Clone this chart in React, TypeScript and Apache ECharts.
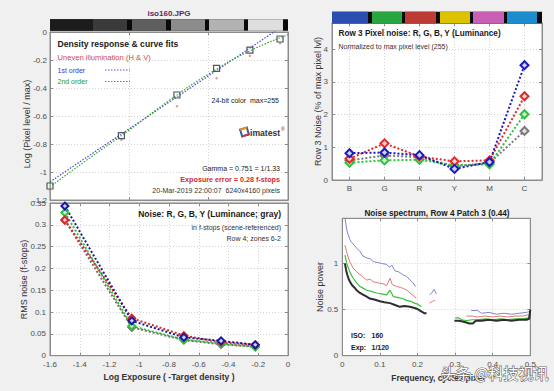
import React, { useEffect, useRef } from 'react';
import * as echarts from 'echarts';

const W = 554;
const H = 391;
const FONT = '"Liberation Sans", Arial, Helvetica, sans-serif';
const AX = '#8c8c8c';
const TICK_TXT = '#4d4d4d';

// ---- Top-left: density response ----
const densX = [-1.5, -1.05, -0.7, -0.45, -0.24, -0.05];
const densY = [-1.1, -0.74, -0.45, -0.26, -0.13, -0.05];
const unevenY = [-1.13, -0.77, -0.53, -0.33, -0.17, -0.08];
const fit1X = [-1.5, 0];
const fit1Y = [-1.07, 0.067];
const fit2X = [-1.5, -1.25, -1.0, -0.75, -0.5, -0.25, 0];
const fit2Y = [-1.105, -0.9, -0.7, -0.49, -0.3, -0.14, -0.02];

// ---- Top-right: pixel noise per patch ----
const patchCats = ['B', 'G', 'R', 'Y', 'M', 'C'];
const pnBlue = [0.82, 0.84, 0.76, 0.34, 0.55, 3.51];
const pnRed = [0.65, 1.12, 0.72, 0.57, 0.6, 2.56];
const pnGreen = [0.53, 0.6, 0.62, 0.45, 0.48, 2.01];
const pnGray = [0.6, 0.75, 0.7, 0.42, 0.52, 1.5];

// ---- Bottom-left: noise in f-stops ----
const nzX = [-1.5, -1.05, -0.7, -0.45, -0.22];
const nzBlue = [0.343, 0.08, 0.042, 0.034, 0.025];
const nzRed = [0.311, 0.086, 0.046, 0.031, 0.025];
const nzGreen = [0.328, 0.068, 0.037, 0.028, 0.02];
const nzGray = [0.311, 0.065, 0.036, 0.026, 0.021];

// ---- Bottom-right: noise spectrum (null = gap) ----
const specBlue: (number[] | null)[] = [
  [0.007, 1.5], [0.012, 1.36], [0.02, 1.26], [0.025, 1.23], [0.035, 1.18], [0.047, 1.13], [0.055, 1.08],
  [0.065, 1.06], [0.075, 1.05], [0.082, 1.02], [0.095, 1.01], [0.105, 1.0], [0.118, 0.99], [0.125, 0.96],
  [0.132, 0.98], [0.14, 0.92], [0.15, 0.91], [0.16, 0.88], [0.171, 0.86], [0.18, 0.82], [0.188, 0.79], [0.195, 0.75],
  null,
  [0.232, 0.66], [0.238, 0.68], [0.244, 0.72], [0.25, 0.67],
  null,
  [0.343, 0.49], [0.36, 0.49], [0.37, 0.46], [0.39, 0.47], [0.41, 0.45], [0.43, 0.46], [0.45, 0.45],
  [0.47, 0.46], [0.49, 0.47], [0.5, 0.48],
];
const specRed: (number[] | null)[] = [
  [0.007, 1.2], [0.012, 1.12], [0.016, 1.06], [0.022, 1.0], [0.029, 0.95], [0.038, 0.91], [0.047, 0.88],
  [0.056, 0.85], [0.065, 0.82], [0.075, 0.83], [0.082, 0.8], [0.095, 0.79], [0.108, 0.78], [0.118, 0.76],
  [0.127, 0.84], [0.133, 0.77], [0.145, 0.75], [0.155, 0.74], [0.162, 0.73], [0.172, 0.71], [0.18, 0.68],
  [0.19, 0.65], [0.197, 0.62],
  null,
  [0.232, 0.57], [0.24, 0.59], [0.247, 0.6],
  null,
  [0.33, 0.43], [0.345, 0.43], [0.36, 0.42], [0.38, 0.43], [0.4, 0.42], [0.42, 0.43], [0.44, 0.42],
  [0.46, 0.43], [0.48, 0.43], [0.5, 0.45],
];
const specGreen: (number[] | null)[] = [
  [0.007, 1.09], [0.012, 1.0], [0.016, 0.95], [0.022, 0.89], [0.029, 0.84], [0.038, 0.79], [0.047, 0.75],
  [0.056, 0.73], [0.065, 0.71], [0.075, 0.7], [0.091, 0.68], [0.105, 0.67], [0.118, 0.66], [0.127, 0.71],
  [0.136, 0.64], [0.15, 0.63], [0.16, 0.62], [0.171, 0.6], [0.182, 0.59], [0.192, 0.57], [0.2, 0.56], [0.21, 0.53],
  null,
  [0.3, 0.41], [0.31, 0.41], [0.318, 0.39], [0.33, 0.38], [0.345, 0.39], [0.36, 0.39], [0.38, 0.4],
  [0.4, 0.39], [0.42, 0.4], [0.44, 0.39], [0.46, 0.4], [0.48, 0.4], [0.495, 0.41], [0.5, 0.45],
];
const specBlack: (number[] | null)[] = [
  [0.007, 1.0], [0.01, 0.93], [0.013, 0.88], [0.018, 0.82], [0.025, 0.77], [0.032, 0.74], [0.038, 0.71],
  [0.047, 0.68], [0.056, 0.66], [0.065, 0.64], [0.073, 0.62], [0.085, 0.61], [0.1, 0.59], [0.112, 0.58],
  [0.127, 0.57], [0.14, 0.55], [0.153, 0.53], [0.165, 0.54], [0.18, 0.53], [0.19, 0.52], [0.198, 0.51],
  [0.21, 0.48], [0.219, 0.46], [0.224, 0.46],
  null,
  [0.298, 0.38], [0.31, 0.38], [0.32, 0.37], [0.33, 0.36], [0.338, 0.35], [0.347, 0.35], [0.355, 0.38],
  [0.37, 0.38], [0.39, 0.39], [0.41, 0.38], [0.43, 0.39], [0.45, 0.38], [0.47, 0.39], [0.49, 0.39],
  [0.497, 0.4], [0.5, 0.5],
];

const zip = (xs: number[], ys: number[]) => xs.map((x, i) => [x, ys[i]]);
const toPairs = (arr: (number[] | null)[]) => arr.map((p) => (p ? p : [null, null]));

const tickLabel = { color: TICK_TXT, fontSize: 8, fontFamily: FONT };
const gridSplit = { show: true, lineStyle: { color: '#d2d2d2', type: [1, 2] as number[], width: 1 } };

function xAxes(grid: number, o: any) {
  const common: any = {
    type: 'value', gridIndex: grid, min: o.min, max: o.max,
    axisLine: { show: true, onZero: false, lineStyle: { color: AX } },
    axisTick: { show: true, inside: true, length: 3, lineStyle: { color: AX } },
  };
  if (o.interval !== undefined) common.interval = o.interval;
  if (o.splitNumber !== undefined) common.splitNumber = o.splitNumber;
  return [
    { ...common, position: 'bottom', axisLabel: { show: o.labels, ...tickLabel, margin: o.margin ?? 5, formatter: o.fmt }, splitLine: gridSplit },
    { ...common, position: 'top', axisLabel: { show: false }, splitLine: { show: false } },
  ];
}
function yAxes(grid: number, o: any) {
  const common: any = {
    type: 'value', gridIndex: grid, min: o.min, max: o.max, interval: o.interval,
    axisLine: { show: true, onZero: false, lineStyle: { color: AX } },
    axisTick: { show: true, inside: true, length: 3, lineStyle: { color: AX } },
  };
  return [
    { ...common, position: 'left', axisLabel: { show: true, ...tickLabel, margin: o.margin ?? 4, formatter: o.fmt }, splitLine: gridSplit },
    { ...common, position: 'right', axisLabel: { show: false }, splitLine: { show: false } },
  ];
}

function txt(x: number, y: number, text: string, o: any = {}) {
  const align = o.align || 'left';
  return {
    type: 'text', x, y, rotation: o.rotate || 0, z: 100,
    style: {
      text, fill: o.color || '#1a1a1a',
      font: `${o.bold ? 'bold ' : ''}${o.size || 7}px ${o.family || FONT}`,
      textAlign: align, textVerticalAlign: 'middle', align, verticalAlign: 'middle',
      stroke: o.stroke, lineWidth: o.lineWidth,
    },
  };
}

const grayBar = [
  [50, 93, '#1c1c1c'], [93, 127, '#3b3b3b'], [132, 166, '#5e5e5e'],
  [171, 205, '#8c8c8c'], [209, 244, '#b2b2b2'], [248, 283, '#dedede'],
];
const colorBar = [
  [332, 368, '#2a4db0'], [372, 402, '#2aa640'], [405, 436, '#be3a35'],
  [440, 470, '#dcc200'], [473, 504, '#c95fb5'], [507, 537, '#1c8ccc'],
];

function barRects(segs: any[], x0: number, x1: number, y0: number, y1: number) {
  const out: any[] = [{ type: 'rect', shape: { x: x0, y: y0, width: x1 - x0, height: y1 - y0 }, style: { fill: '#0a0a0a' }, z: 50 }];
  segs.forEach((s) => out.push({ type: 'rect', shape: { x: s[0], y: y0, width: s[1] - s[0], height: y1 - y0 }, style: { fill: s[2] }, z: 51 }));
  return out;
}

function diamondLine(name: string, data: any[], color: string, fill: string, xi: number, size = 8) {
  return {
    type: 'line', name, xAxisIndex: xi, yAxisIndex: xi, data,
    symbol: 'diamond', symbolSize: size, showSymbol: true,
    lineStyle: { color, width: 2, type: [2, 2] },
    itemStyle: { color: fill, borderColor: color, borderWidth: 2 },
  };
}

const option: any = {
  animation: false,
  backgroundColor: '#f0f0f0',
  grid: [
    { left: 50, top: 32, width: 238, height: 168, show: true, backgroundColor: '#fff', borderColor: AX, borderWidth: 1 },
    { left: 332, top: 23, width: 210, height: 157, show: true, backgroundColor: '#fff', borderColor: AX, borderWidth: 1 },
    { left: 50, top: 203, width: 238, height: 152.7, show: true, backgroundColor: '#fff', borderColor: AX, borderWidth: 1 },
    { left: 342.3, top: 218.3, width: 188, height: 137.4, show: true, backgroundColor: '#fff', borderColor: AX, borderWidth: 1 },
  ],
  xAxis: [
    ...xAxes(0, { min: -1.5, max: 0, interval: 0.5, labels: false }),
    ...xAxes(1, {
      min: -0.5, max: 5.5, splitNumber: 6, labels: true, margin: 4,
      fmt: (v: number) => {
        const r = Math.round(v);
        return Math.abs(v - r) < 1e-6 && r >= 0 && r < patchCats.length ? patchCats[r] : '';
      },
    }),
    ...xAxes(2, { min: -1.6, max: 0, interval: 0.2, labels: true }),
    ...xAxes(3, { min: 0, max: 0.5, interval: 0.1, labels: true }),
  ],
  yAxis: [
    ...yAxes(0, { min: -1.2, max: 0, interval: 0.2, margin: 3 }),
    ...yAxes(1, { min: 0, max: 4.8, interval: 1, fmt: (v: number) => (Math.abs(v - Math.round(v)) < 1e-6 ? String(Math.round(v)) : '') }),
    ...yAxes(2, { min: 0, max: 0.35, interval: 0.05 }),
    ...yAxes(3, { min: 0, max: 1.49, interval: 0.5, fmt: (v: number) => (Math.abs(v * 2 - Math.round(v * 2)) < 1e-6 ? String(v) : '') }),
  ],
  series: [
    // top-left
    { type: 'line', xAxisIndex: 0, yAxisIndex: 0, data: zip(fit1X, fit1Y), showSymbol: false, symbol: 'none',
      lineStyle: { color: '#4a4ad0', width: 1.2, type: [1.5, 1.5] } },
    { type: 'line', xAxisIndex: 0, yAxisIndex: 0, data: zip(fit2X, fit2Y), smooth: true, showSymbol: false, symbol: 'none',
      lineStyle: { color: '#2aa82a', width: 1.2, type: [1.5, 1.5] } },
    { type: 'scatter', xAxisIndex: 0, yAxisIndex: 0, data: zip(densX, unevenY), symbol: 'circle', symbolSize: 2.5,
      itemStyle: { color: '#e58080' } },
    { type: 'scatter', xAxisIndex: 0, yAxisIndex: 0, data: zip(densX, densY), symbol: 'rect', symbolSize: 6, z: 5,
      itemStyle: { color: 'rgba(255,255,255,0.2)', borderColor: '#4f5860', borderWidth: 1.2, opacity: 1 } },
    // top-right
    diamondLine('gray', pnGray.map((v, i) => [i, v]), '#7a7a7a', '#e0e0e0', 2),
    diamondLine('green', pnGreen.map((v, i) => [i, v]), '#2ec23a', '#c8f4c8', 2),
    diamondLine('red', pnRed.map((v, i) => [i, v]), '#e02a2a', '#fad0d0', 2),
    diamondLine('blue', pnBlue.map((v, i) => [i, v]), '#1a1ac0', '#d0d0f4', 2),
    // bottom-left
    diamondLine('gray', zip(nzX, nzGray), '#7a6a6a', '#e0d4d4', 4, 7),
    diamondLine('green', zip(nzX, nzGreen), '#2ec23a', '#c8f4c8', 4, 7),
    diamondLine('red', zip(nzX, nzRed), '#d82a2a', '#fad0d0', 4, 7),
    diamondLine('blue', zip(nzX, nzBlue), '#1a1aa0', '#d0d0f4', 4, 7),
    // bottom-right
    { type: 'line', xAxisIndex: 6, yAxisIndex: 6, data: toPairs(specBlue), showSymbol: false, symbol: 'none', connectNulls: false,
      lineStyle: { color: '#7f86cc', width: 1 } },
    { type: 'line', xAxisIndex: 6, yAxisIndex: 6, data: toPairs(specRed), showSymbol: false, symbol: 'none', connectNulls: false,
      lineStyle: { color: '#e07878', width: 1 } },
    { type: 'line', xAxisIndex: 6, yAxisIndex: 6, data: toPairs(specGreen), showSymbol: false, symbol: 'none', connectNulls: false,
      lineStyle: { color: '#3cc03c', width: 1.2 } },
    { type: 'line', xAxisIndex: 6, yAxisIndex: 6, data: toPairs(specBlack), showSymbol: false, symbol: 'none', connectNulls: false,
      lineStyle: { color: '#2e2e2e', width: 2 } },
  ],
  graphic: [
    ...barRects(grayBar, 50, 288, 19.3, 30.7),
    ...barRects(colorBar, 332, 542, 11.7, 23.3),
    txt(169, 13, 'iso160.JPG', { bold: true, size: 8, align: 'center', color: '#5a2a6a' }),
    // top-left annotations
    txt(57.5, 44, 'Density response & curve fits', { bold: true, size: 8.6 }),
    txt(57.5, 57.3, 'Uneven illumination (H & V)', { size: 7.6, color: '#d04848' }),
    txt(57.5, 70, '1st order', { size: 7, color: '#3a3ac0' }),
    txt(57.5, 81.5, '2nd order', { size: 7, color: '#2a982a' }),
    { type: 'line', z: 100, shape: { x1: 105, y1: 70, x2: 130, y2: 70 }, style: { stroke: '#5a5ad0', lineWidth: 1.2, lineDash: [1.5, 1.5] } },
    { type: 'line', z: 100, shape: { x1: 105, y1: 81.5, x2: 130, y2: 81.5 }, style: { stroke: '#2aa82a', lineWidth: 1.2, lineDash: [1.5, 1.5] } },
    txt(279, 100.5, '24-bit color  max=255', { size: 7, align: 'right' }),
    { type: 'rect', z: 100, x: 244.5, y: 132, rotation: 0.3, shape: { x: -3.5, y: -3.5, width: 7, height: 7 },
      style: { fill: 'none', stroke: '#2f5fb0', lineWidth: 2 } },
    { type: 'line', z: 101, x: 244.5, y: 132, rotation: 0.3, shape: { x1: -3.5, y1: -3.5, x2: 3.5, y2: -3.5 }, style: { stroke: '#e8902a', lineWidth: 2 } },
    { type: 'line', z: 101, x: 244.5, y: 132, rotation: 0.3, shape: { x1: -3.5, y1: 3.5, x2: 3.5, y2: 3.5 }, style: { stroke: '#c03a3a', lineWidth: 2 } },
    txt(250, 132.5, 'imatest', { bold: true, size: 8.6, color: '#333' }),
    txt(281, 129, '®', { size: 5, color: '#333' }),
    txt(280, 168.3, 'Gamma = 0.751 = 1/1.33', { size: 7, align: 'right' }),
    txt(280, 179.3, 'Exposure error = 0.28 f-stops', { size: 7.2, bold: true, align: 'right', color: '#d02a2a' }),
    txt(280, 190, '20-Mar-2019 22:00:07  6240x4160 pixels', { size: 7, align: 'right', color: '#333' }),
    txt(27, 124, 'Log (Pixel level / max)', { size: 9, align: 'center', rotate: Math.PI / 2, color: '#333' }),
    // top-right annotations
    txt(338.5, 33.3, 'Row 3 Pixel noise: R, G, B, Y (Luminance)', { bold: true, size: 8.2 }),
    txt(338.5, 46, 'Normalized to max pixel level (255)', { size: 7, color: '#333' }),
    txt(318, 101.5, 'Row 3 Noise (% of max pixel lvl)', { size: 9, align: 'center', rotate: Math.PI / 2, color: '#333' }),
    // bottom-left annotations
    txt(281, 214, 'Noise: R, G, B, Y (Luminance; gray)', { bold: true, size: 8.5, align: 'right' }),
    txt(281, 227.3, 'in f-stops (scene-referenced)', { size: 7, align: 'right', color: '#333' }),
    txt(281, 238.5, 'Row 4; zones 6-2', { size: 7, align: 'right', color: '#333' }),
    txt(24, 279.5, 'RMS noise (f-stops)', { size: 9, align: 'center', rotate: Math.PI / 2, color: '#333' }),
    txt(169, 376.5, 'Log Exposure ( -Target density )', { bold: true, size: 8.6, align: 'center', color: '#333' }),
    // bottom-right annotations
    txt(437, 213, 'Noise spectrum, Row 4 Patch 3 (0.44)', { bold: true, size: 8.2, align: 'center' }),
    txt(351, 335, 'ISO:', { bold: true, size: 7 }),
    txt(371.5, 335, '160', { bold: true, size: 7 }),
    txt(351, 347.5, 'Exp:', { bold: true, size: 7 }),
    txt(371.5, 347.5, '1/120', { bold: true, size: 7 }),
    txt(319.5, 287, 'Noise power', { size: 9, align: 'center', rotate: Math.PI / 2, color: '#333' }),
    txt(438, 378, 'Frequency, cycles/pixel', { bold: true, size: 8.4, align: 'center', color: '#333' }),
    // watermark
    txt(441, 372, '头条 @科技视讯', { size: 15, family: '"Noto Sans CJK SC", sans-serif', color: '#ffffff', stroke: '#6a6a6a', lineWidth: 1.2 }),
  ],
};

export default function App() {
  const ref = useRef<HTMLDivElement>(null);
  useEffect(() => {
    if (!ref.current) return;
    const chart = echarts.init(ref.current, undefined, { renderer: 'svg' });
    chart.setOption(option);
    return () => chart.dispose();
  }, []);
  return (
    <div
      ref={ref}
      style={{ position: 'fixed', left: 0, top: 0, width: W, height: H, background: '#f0f0f0' }}
    />
  );
}
